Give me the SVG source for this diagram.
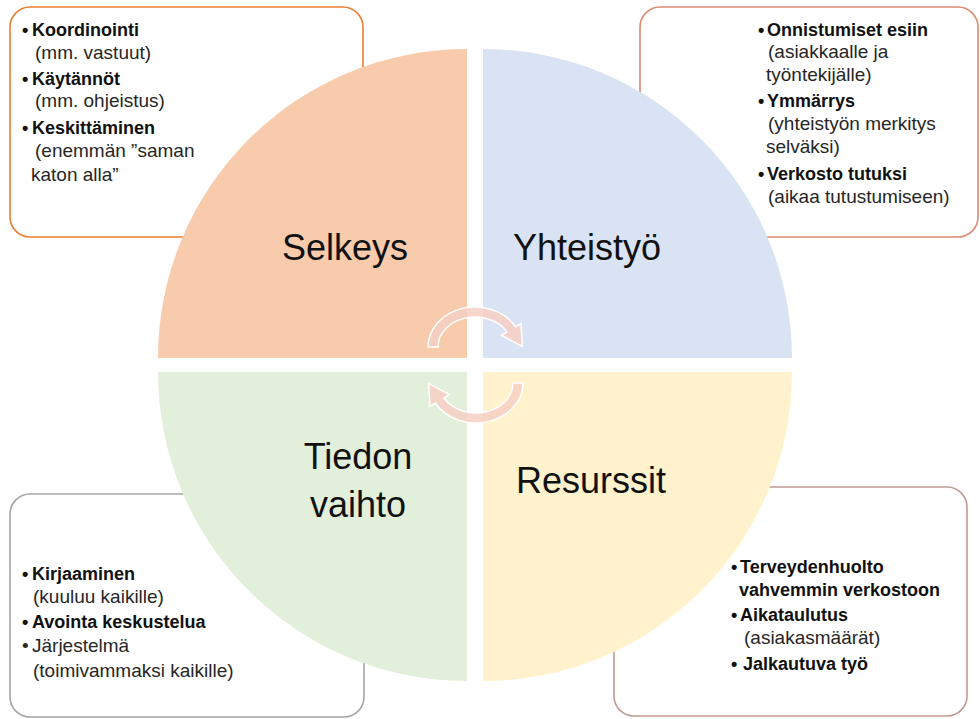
<svg xmlns="http://www.w3.org/2000/svg" width="980" height="719" viewBox="0 0 980 719">
  <style>
    .box { fill: #ffffff; stroke-width: 1.6; }
    .b { font-family: "Liberation Sans", Arial, sans-serif; font-size: 18px; font-weight: bold; fill: #111111; }
    .r { font-family: "Liberation Sans", Arial, sans-serif; font-size: 19px; fill: #262626; }
    .big { font-family: "Liberation Sans", Arial, sans-serif; font-size: 36px; fill: #111111; text-anchor: middle; }
    .cycle { fill: #f6cfc2; fill-opacity: 0.85; stroke: #ffffff; stroke-width: 1.5; }
  </style>

  <!-- note boxes (drawn first, the quarter discs lie over their inner borders) -->
  <g id="box-selkeys">
    <rect class="box" x="10" y="7" width="353" height="230" rx="20" stroke="#ED7D31"/>
  </g>
  <g id="box-yhteistyo">
    <rect class="box" x="640" y="7" width="338" height="230" rx="20" stroke="#DC8A70"/>
  </g>
  <g id="box-tiedonvaihto">
    <rect class="box" x="10" y="494" width="354" height="223" rx="20" stroke="#A6A6A6"/>
  </g>
  <g id="box-resurssit">
    <rect class="box" x="614" y="487" width="353" height="229" rx="20" stroke="#C09A92"/>
  </g>

  <!-- quarter discs -->
  <g id="selkeys">
    <path d="M467 358 L158 358 A309 309 0 0 1 467 49 Z" fill="#F8CBAD"/>
    <text class="big" x="345" y="260">Selkeys</text>
  </g>
  <g id="yhteistyo">
    <path d="M483 358 L483 49 A309 309 0 0 1 792 358 Z" fill="#DAE3F3"/>
    <text class="big" x="587" y="260">Yhteistyö</text>
  </g>
  <g id="resurssit">
    <path d="M483 372 L792 372 A309 309 0 0 1 483 681 Z" fill="#FFF2CC"/>
    <text class="big" x="591" y="493">Resurssit</text>
  </g>
  <g id="tiedonvaihto">
    <path d="M467 372 L467 681 A309 309 0 0 1 158 372 Z" fill="#E2EFDA"/>
    <text class="big" x="358" y="469">Tiedon</text>
    <text class="big" x="358" y="517">vaihto</text>
  </g>

  <!-- circular arrows in the middle -->
  <g id="connectors">
    <path id="cycle-top" class="cycle" d="M428 347 A47 40 0 0 1 515.7 327 L521 323.5 L522.4 346.4 L501.5 335.5 L507 332 A37 30 0 0 0 438 347 Z"/>
    <path id="cycle-bottom" class="cycle" transform="rotate(180 475.5 365)" d="M428 347 A47 40 0 0 1 515.7 327 L521 323.5 L522.4 346.4 L501.5 335.5 L507 332 A37 30 0 0 0 438 347 Z"/>
  </g>

  <!-- box texts -->
  <g id="text-selkeys">
    <text class="b" x="22" y="36">•<tspan x="32">Koordinointi</tspan></text>
    <text class="r" x="35" y="59">(mm. vastuut)</text>
    <text class="b" x="22" y="85">•<tspan x="32">Käytännöt</tspan></text>
    <text class="r" x="35" y="107">(mm. ohjeistus)</text>
    <text class="b" x="22" y="134">•<tspan x="32">Keskittäminen</tspan></text>
    <text class="r" x="35" y="157">(enemmän ”saman</text>
    <text class="r" x="31" y="181">katon alla”</text>
  </g>
  <g id="text-yhteistyo">
    <text class="b" x="758" y="36">•<tspan x="767">Onnistumiset esiin</tspan></text>
    <text class="r" x="768" y="58">(asiakkaalle ja</text>
    <text class="r" x="766" y="81">työntekijälle)</text>
    <text class="b" x="758" y="107">•<tspan x="767">Ymmärrys</tspan></text>
    <text class="r" x="768" y="130">(yhteistyön merkitys</text>
    <text class="r" x="766" y="153">selväksi)</text>
    <text class="b" x="758" y="180">•<tspan x="767">Verkosto tutuksi</tspan></text>
    <text class="r" x="768" y="203">(aikaa tutustumiseen)</text>
  </g>
  <g id="text-tiedonvaihto">
    <text class="b" x="22" y="580">•<tspan x="32">Kirjaaminen</tspan></text>
    <text class="r" x="33" y="603">(kuuluu kaikille)</text>
    <text class="b" x="22" y="628">•<tspan x="32">Avointa keskustelua</tspan></text>
    <text class="r" x="22" y="652">•<tspan x="32">Järjestelmä</tspan></text>
    <text class="r" x="33" y="677">(toimivammaksi kaikille)</text>
  </g>
  <g id="text-resurssit">
    <text class="b" x="731" y="573">•<tspan x="740">Terveydenhuolto</tspan></text>
    <text class="b" x="739" y="596">vahvemmin verkostoon</text>
    <text class="b" x="731" y="621">•<tspan x="740">Aikataulutus</tspan></text>
    <text class="r" x="744" y="644">(asiakasmäärät)</text>
    <text class="b" x="731" y="670">•<tspan x="743">Jalkautuva työ</tspan></text>
  </g>
</svg>
